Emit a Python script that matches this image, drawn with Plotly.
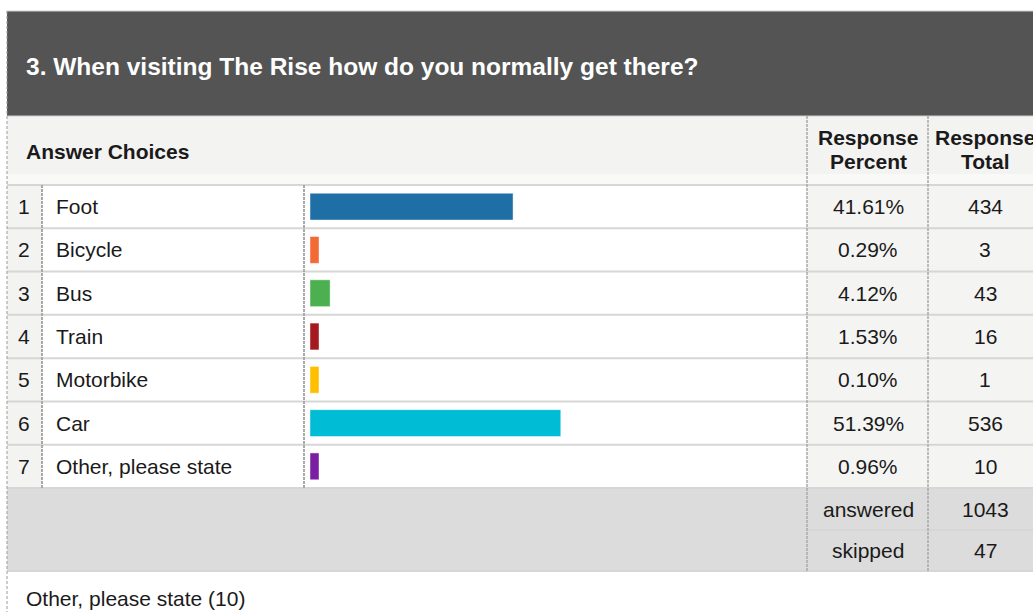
import plotly.graph_objects as go
import numpy as np

W, H = 1033, 612

# ---- data ----
title_text = "3. When visiting The Rise how do you normally get there?"
row_numbers = ["1", "2", "3", "4", "5", "6", "7"]
choices = ["Foot", "Bicycle", "Bus", "Train", "Motorbike", "Car", "Other, please state"]
percents = [41.61, 0.29, 4.12, 1.53, 0.10, 51.39, 0.96]
totals = [434, 3, 43, 16, 1, 536, 10]
bar_colors = ["#1d6fa5", "#f26a35", "#4caf50", "#a31b1d", "#ffbf00", "#00bcd4", "#7b1fa2"]
answered = 1043
skipped = 47
other_count = 10

FONT = "Liberation Sans, Arial, sans-serif"
BODY = 21
TXT = "#1a1a1a"


def px(x):
    return x / W


def py(y):
    return 1 - y / H


shapes = []


def rect(x0, y0, x1, y1, fill):
    shapes.append(dict(type="rect", xref="paper", yref="paper", x0=px(x0), x1=px(x1),
                       y0=py(y1), y1=py(y0), fillcolor=fill, line=dict(width=0), layer="below"))


def hline(y, x0, x1, color="#d6d6d6", width=2):
    shapes.append(dict(type="line", xref="paper", yref="paper", x0=px(x0), x1=px(x1),
                       y0=py(y), y1=py(y), line=dict(color=color, width=width), layer="above"))


def vdash(x, y0, y1, width=2, color="#a9a9a9", dash="3px,1px"):
    shapes.append(dict(type="line", xref="paper", yref="paper", x0=px(x), x1=px(x),
                       y0=py(y0), y1=py(y1), line=dict(color=color, width=width, dash=dash), layer="above"))


# geometry (pixels)
LEFT = 7
RIGHT = 1045
TOP = 11
HEAD_BOT = 116
ROW_TOP = 185
ROW_BOT = 488
n = len(choices)
row_h = (ROW_BOT - ROW_TOP) / n
SUM_MID = 530
SUM_BOT = 571
C_NUM = 42
C_LAB = 304
C_PCT = 807
C_TOT = 928
BAR_X0 = 310
BAR_X1 = 798

# backgrounds
rect(LEFT, TOP, RIGHT, HEAD_BOT, "#535453")
rect(LEFT, HEAD_BOT, RIGHT, 174, "#f3f3f2")
rect(LEFT, 174, RIGHT, ROW_TOP, "#f9f9f8")
rect(LEFT, ROW_TOP, C_NUM, ROW_BOT, "#f3f3f2")
rect(C_PCT, ROW_TOP, RIGHT, ROW_BOT, "#f4f4f3")
rect(LEFT, ROW_BOT, RIGHT, SUM_BOT, "#dcdcdc")

# lines
hline(TOP, LEFT, RIGHT, "#cfcfcf", 1)
hline(HEAD_BOT, LEFT, RIGHT, "#cfcfcf", 1)
for i in range(n + 1):
    hline(ROW_TOP + i * row_h, LEFT, RIGHT)
hline(SUM_MID, C_PCT, RIGHT)
hline(SUM_BOT, LEFT, RIGHT)

vdash(LEFT, TOP, H, width=1, color="#9a9a9a", dash="3px,2px")
vdash(C_NUM, ROW_TOP, ROW_BOT)
vdash(C_LAB, ROW_TOP, ROW_BOT)
vdash(C_PCT, HEAD_BOT, SUM_BOT, width=1.5)
vdash(C_TOT, HEAD_BOT, SUM_BOT, width=1.5)

annotations = []


def text(x, y, s, anchor="left", size=BODY, color=TXT, bold=False):
    if bold:
        s = "<b>" + s + "</b>"
    annotations.append(dict(xref="paper", yref="paper", x=px(x), y=py(y), text=s, showarrow=False,
                            xanchor=anchor, yanchor="middle",
                            font=dict(family=FONT, size=size, color=color)))


text(24, 66, title_text, size=24.5, color="#ffffff", bold=True)
text(24, 151, "Answer Choices", bold=True)
pct_c = (C_PCT + C_TOT) / 2 + 0.5
tot_c = 985
text(pct_c, 138, "Response", anchor="center", bold=True)
text(pct_c, 162, "Percent", anchor="center", bold=True)
text(tot_c, 138, "Response", anchor="center", bold=True)
text(tot_c, 162, "Total", anchor="center", bold=True)

for i in range(n):
    yc = ROW_TOP + (i + 0.5) * row_h
    text(24, yc, row_numbers[i], anchor="center")
    text(54, yc, choices[i])
    text(pct_c, yc, f"{percents[i]:.2f}%", anchor="center")
    text(tot_c, yc, str(totals[i]), anchor="center")

text(pct_c, (ROW_BOT + SUM_MID) / 2, "answered", anchor="center")
text(tot_c, (ROW_BOT + SUM_MID) / 2, str(answered), anchor="center")
text(pct_c, (SUM_MID + SUM_BOT) / 2, "skipped", anchor="center")
text(tot_c, (SUM_MID + SUM_BOT) / 2, str(skipped), anchor="center")
text(24, 598, f"Other, please state ({other_count})")

# bars: tiny values drawn with a minimum visible length, as in the survey tool
shown = np.maximum(np.array(percents), 1.85)

fig = go.Figure(go.Bar(
    x=shown, y=choices, orientation="h",
    marker=dict(color=bar_colors, line=dict(color="rgba(255,255,255,0.45)", width=1)),
    width=0.62,
    customdata=percents,
    hovertemplate="%{y}: %{customdata:.2f}%<extra></extra>",
))

fig.update_layout(
    width=W, height=H,
    margin=dict(l=0, r=0, t=0, b=0),
    paper_bgcolor="#ffffff", plot_bgcolor="rgba(0,0,0,0)",
    showlegend=False,
    shapes=shapes,
    annotations=annotations,
    xaxis=dict(domain=[px(BAR_X0), px(BAR_X1)], range=[0, 100], visible=False, fixedrange=True),
    yaxis=dict(domain=[py(ROW_BOT), py(ROW_TOP)], range=[n - 0.5, -0.5], visible=False,
               categoryorder="array", categoryarray=choices, fixedrange=True),
)

fig.write_html("out.html", config={"displayModeBar": False},
               post_script="document.body.style.margin='0';document.body.style.overflow='hidden';")
